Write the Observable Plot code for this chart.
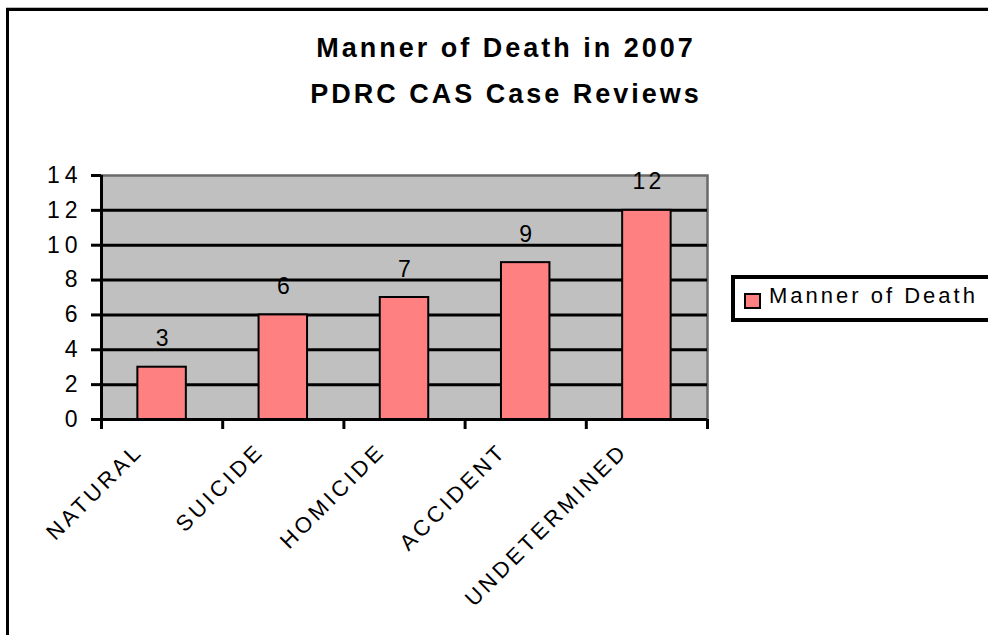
<!DOCTYPE html>
<html>
<head>
<meta charset="utf-8">
<script src="https://cdn.jsdelivr.net/npm/d3@7"></script>
<script src="https://cdn.jsdelivr.net/npm/@observablehq/plot@0.6"></script>
<style>
  html, body { margin: 0; padding: 0; overflow: hidden; background: #fff; }
  #wrap { position: relative; width: 988px; height: 635px; overflow: hidden; font-family: "Liberation Sans", Arial, sans-serif; }
  #border { position: absolute; left: 6px; top: 8px; width: 1100px; height: 700px; border-left: 3px solid #000; border-top: 3px solid #000; box-shadow: 0 -1px 0 #bbb; }
  .title { position: absolute; left: 0; width: 1012px; text-align: center; font-weight: bold; font-size: 27px; line-height: 27px; letter-spacing: 3px; color: #000; white-space: nowrap; }
  #legend { position: absolute; left: 731px; top: 275px; width: 400px; height: 39px; border: 4px solid #000; background: #fff; }
  #swatch { position: absolute; left: 9px; top: 14px; width: 13px; height: 12px; background: #FF8080; border: 2px solid #000; }
  #legtext { position: absolute; left: 34px; top: 6px; font-size: 22px; line-height: 22px; letter-spacing: 3px; white-space: nowrap; }
  #chart { position: absolute; left: 0; top: 0; }
  #chart svg text { letter-spacing: 3px; }
  #chart svg g[aria-label="y-axis tick label"] text { letter-spacing: 5px; }
  #chart svg g.catlab text { letter-spacing: 3.5px; }
</style>
</head>
<body>
<div id="wrap">
  <div id="border"></div>
  <div class="title" id="t1" style="top:35px"></div>
  <div class="title" id="t2" style="top:81px"></div>
  <div id="chart"></div>
  <div id="legend"><div id="swatch"></div><div id="legtext"></div></div>
</div>
<script>
const titleLines = ["Manner of Death in 2007", "PDRC CAS Case Reviews"];
const seriesName = "Manner of Death";
const categories = ["NATURAL", "SUICIDE", "HOMICIDE", "ACCIDENT", "UNDETERMINED"];
const values = [3, 6, 7, 9, 12];
const yTicks = [0, 2, 4, 6, 8, 10, 12, 14];
const gridValues = [2, 4, 6, 8, 10, 12];

document.getElementById("t1").textContent = titleLines[0];
document.getElementById("t2").textContent = titleLines[1];
document.getElementById("legtext").textContent = seriesName;

const gapWidth = 1.5;
const half = 0.5 / (1 + gapWidth);
const boundaries = d3.range(categories.length + 1);
const rows = categories.map((c, i) => ({cat: c, i, v: values[i]}));

const chart = Plot.plot({
  width: 988,
  height: 635,
  marginLeft: 101,
  marginRight: 281,
  marginTop: 175,
  marginBottom: 216,
  style: {fontFamily: "Liberation Sans, Arial, sans-serif", fontSize: "22px", background: "transparent", overflow: "visible", color: "#000"},
  x: {type: "linear", domain: [0, categories.length]},
  y: {domain: [0, 14]},
  marks: [
    Plot.frame({fill: "#C0C0C0", stroke: "#6a6a6a", strokeWidth: 2.5}),
    Plot.ruleY(gridValues, {stroke: "#000", strokeWidth: 3}),
    Plot.rectY(rows, {x1: d => d.i + 0.5 - half, x2: d => d.i + 0.5 + half, y: "v", fill: "#FF8080", stroke: "#000", strokeWidth: 2}),
    Plot.ruleX([0], {stroke: "#000", strokeWidth: 3}),
    Plot.ruleY([0], {stroke: "#000", strokeWidth: 3}),
    Plot.axisY({ticks: yTicks, tickSize: 10, tickPadding: 9, strokeWidth: 3, fontSize: 23, tickFormat: d => String(d), label: null}),
    Plot.axisX({ticks: boundaries, tickSize: 10, strokeWidth: 3, tickFormat: () => "", label: null}),
    Plot.text(rows, {x: d => d.i + 0.5, y: "v", text: d => String(d.v), dy: -21, dx: 1.5, lineAnchor: "bottom", fontSize: 23, fill: "#000"}),
    Plot.text(rows, {x: d => d.i + 0.5, frameAnchor: "bottom", text: "cat", rotate: -45, textAnchor: "end", lineAnchor: "bottom", dx: -18, dy: 33, fontSize: 22, fill: "#000", className: "catlab"})
  ]
});
document.getElementById("chart").appendChild(chart);
</script>
</body>
</html>
